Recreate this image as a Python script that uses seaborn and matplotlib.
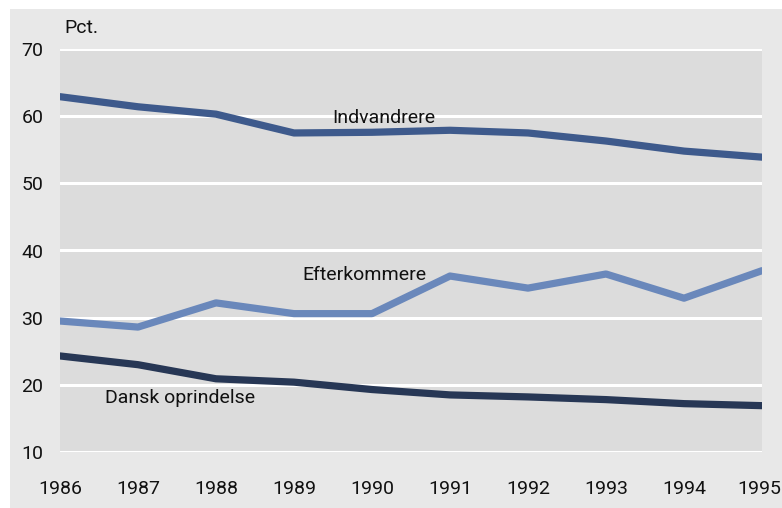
import matplotlib
matplotlib.use("Agg")
import matplotlib.pyplot as plt
from matplotlib.patches import Rectangle
from matplotlib.transforms import ScaledTranslation
import seaborn as sns
import pandas as pd

years = [1986, 1987, 1988, 1989, 1990, 1991, 1992, 1993, 1994, 1995]
indvandrere = [62.9, 61.4, 60.3, 57.5, 57.6, 57.9, 57.5, 56.3, 54.8, 53.9]
efterkommere = [29.5, 28.6, 32.2, 30.6, 30.6, 36.2, 34.4, 36.5, 32.9, 37.0]
dansk = [24.3, 23.0, 20.9, 20.4, 19.3, 18.5, 18.2, 17.8, 17.2, 16.9]
series_names = ["Indvandrere", "Efterkommere", "Dansk oprindelse"]
y_ticks = [10, 20, 30, 40, 50, 60, 70]

df = pd.DataFrame({
    "year": years * 3,
    "value": indvandrere + efterkommere + dansk,
    "series": [series_names[0]] * 10 + [series_names[1]] * 10 + [series_names[2]] * 10,
})

sns.set_theme(style="white")
plt.rcParams["font.family"] = ["Roboto", "DejaVu Sans"]

fig = plt.figure(figsize=(7.82, 5.08), dpi=100)
fig.patch.set_facecolor("white")
fig.patches.append(Rectangle((10 / 782, 0), 1 - 10 / 782, 1 - 9 / 508,
                             transform=fig.transFigure, facecolor="#e8e8e8",
                             edgecolor="none", zorder=-10))
ax = fig.add_axes([60 / 782, 1 - 452 / 508, 702 / 782, 403 / 508])
ax.set_zorder(1)
ax.set_facecolor("#dcdcdc")

palette = {series_names[0]: "#3e5a8c", series_names[1]: "#6a88bb", series_names[2]: "#273755"}
sns.lineplot(data=df, x="year", y="value", hue="series", palette=palette,
             linewidth=5.2, legend=False, ax=ax, zorder=3)

ax.set_xlim(1986, 1995)
ax.set_ylim(10, 70)
ax.set_xticks(years)
ax.set_xticklabels([str(y) for y in years])
ax.set_yticks(y_ticks)
ax.yaxis.grid(True, color="white", linewidth=2.2, zorder=1)
ax.xaxis.grid(False)
ax.set_axisbelow(True)
for s in ax.spines.values():
    s.set_visible(False)
ax.tick_params(axis="both", length=0, labelsize=14, colors="#111111")
ax.tick_params(axis="y", pad=12)
ax.tick_params(axis="x", pad=20)
ax.set_xlabel("")
ax.set_ylabel("")

last = ax.get_xticklabels()[-1]
last.set_transform(last.get_transform() + ScaledTranslation(-3 / 100, 0, fig.dpi_scale_trans))

ax.text(1990.15, 59.7, series_names[0], ha="center", va="center", fontsize=14, color="#111111")
ax.text(1989.9, 36.4, series_names[1], ha="center", va="center", fontsize=14, color="#111111")
ax.text(1987.54, 18.1, series_names[2], ha="center", va="center", fontsize=14, color="#111111")
fig.text(64 / 782, 1 - 28 / 508, "Pct.", ha="left", va="center", fontsize=14, color="#111111")

fig.savefig("out.png", dpi=100, facecolor=fig.get_facecolor())
